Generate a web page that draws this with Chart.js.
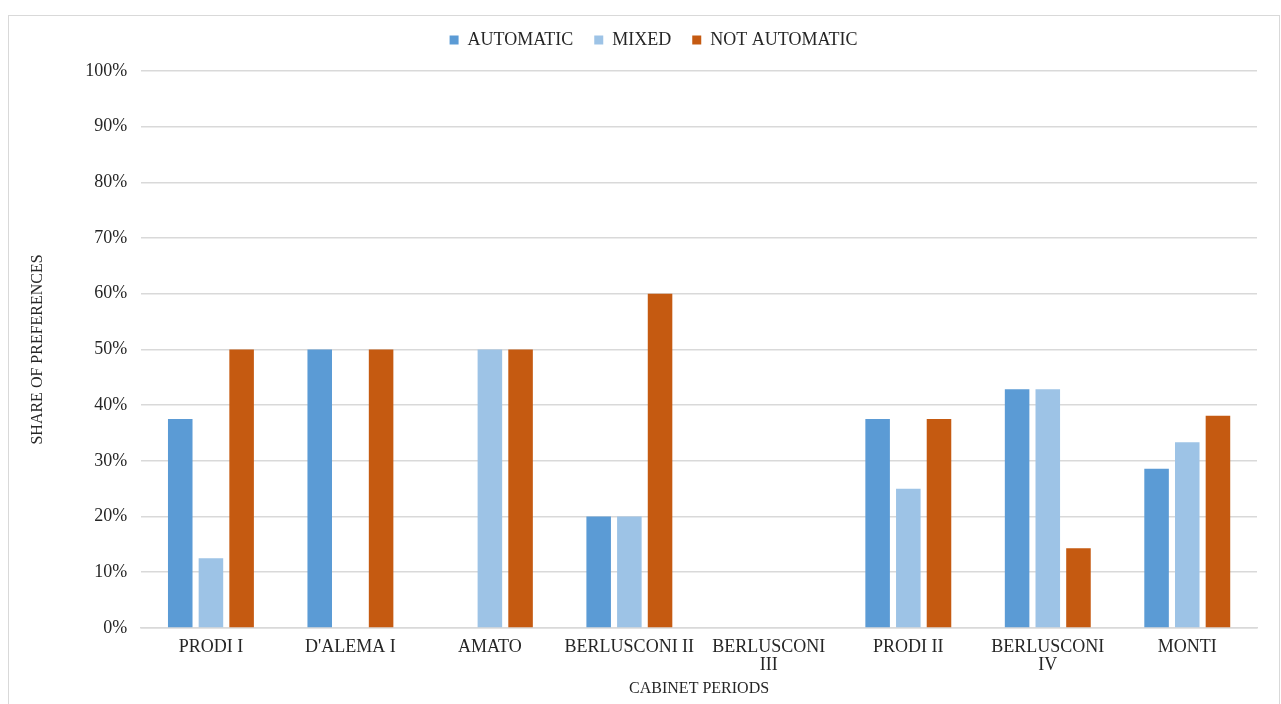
<!DOCTYPE html>
<html>
<head>
<meta charset="utf-8">
<title>Share of preferences by cabinet period</title>
<script src="https://cdn.jsdelivr.net/npm/chart.js@4.4.1/dist/chart.umd.min.js"></script>
<style>
  html, body { margin: 0; padding: 0; background: #ffffff; }
  #frame {
    position: absolute; left: 8px; top: 15px;
    width: 1272px; height: 720px;
    border: 1px solid #d9d9d9; box-sizing: border-box;
  }
  #wrap { position: absolute; left: 0; top: 0; width: 1281px; height: 704px; }
</style>
</head>
<body>
<div id="frame"></div>
<div id="wrap"><canvas id="chart" width="1281" height="704"></canvas></div>
<script>
// Cabinet periods (multi-line where the label wraps)
const cabinets = [
  'PRODI I',
  "D'ALEMA I",
  'AMATO',
  'BERLUSCONI II',
  ['BERLUSCONI', 'III'],
  'PRODI II',
  ['BERLUSCONI', 'IV'],
  'MONTI'
];

// Share of preferences per cabinet, in percent
const automatic    = [37.5, 50, 0, 20, 0, 37.5, 42.86, 28.57];
const mixed        = [12.5, 0, 50, 20, 0, 25, 42.86, 33.33];
const notAutomatic = [50, 50, 50, 60, 0, 37.5, 14.29, 38.1];

// Y-axis range and step (percent)
const yMin = 0;
const yMax = 100;
const yStep = 10;

const serif = "'Liberation Serif', 'Times New Roman', serif";
const textColor = '#262626';
const gridColor = '#d9d9d9';

// Extra space under the legend and a small shift of the legend to the right
const legendTweak = {
  id: 'legendTweak',
  beforeLayout(chart) {
    const lg = chart.legend;
    if (lg && !lg._tweaked) {
      const fit = lg.fit.bind(lg);
      lg.fit = function () { fit(); this.height += 12; };
      lg._tweaked = true;
    }
  },
  afterLayout(chart) {
    if (chart.legend) chart.legend.left += 22;
  }
};

new Chart(document.getElementById('chart'), {
  type: 'bar',
  data: {
    labels: cabinets,
    datasets: [
      { label: 'AUTOMATIC', data: automatic, backgroundColor: '#5b9bd5' },
      { label: 'MIXED', data: mixed, backgroundColor: '#9dc3e6' },
      { label: 'NOT AUTOMATIC', data: notAutomatic, backgroundColor: '#c55a11' }
    ]
  },
  plugins: [legendTweak],
  options: {
    responsive: false,
    animation: false,
    devicePixelRatio: 1,
    datasets: {
      bar: { categoryPercentage: 0.66, barPercentage: 0.8, borderWidth: 0 }
    },
    layout: { padding: { left: 28, right: 24, top: 10, bottom: 6 } },
    plugins: {
      tooltip: { enabled: false },
      legend: {
        position: 'top',
        labels: {
          font: { family: serif, size: 18 },
          color: textColor,
          boxWidth: 9,
          boxHeight: 9,
          padding: 21
        }
      }
    },
    scales: {
      x: {
        grid: { display: false, drawTicks: false },
        border: { display: true, color: gridColor, width: 1.5 },
        ticks: {
          font: { family: serif, size: 18, lineHeight: 0.97 },
          color: textColor,
          padding: 11,
          maxRotation: 0,
          autoSkip: false
        },
        title: {
          display: true,
          text: 'CABINET PERIODS',
          font: { family: serif, size: 16 },
          color: textColor,
          padding: { top: -6, bottom: 0 }
        }
      },
      y: {
        min: yMin,
        max: yMax,
        grid: { color: gridColor, lineWidth: 1.5, drawTicks: false },
        border: { display: false },
        ticks: {
          stepSize: yStep,
          font: { family: serif, size: 18 },
          color: textColor,
          padding: 14,
          callback: v => v + '%'
        },
        title: {
          display: true,
          text: 'SHARE OF PREFERENCES',
          font: { family: serif, size: 16 },
          color: textColor,
          padding: { top: 0, bottom: 24 }
        }
      }
    }
  }
});
</script>
</body>
</html>
